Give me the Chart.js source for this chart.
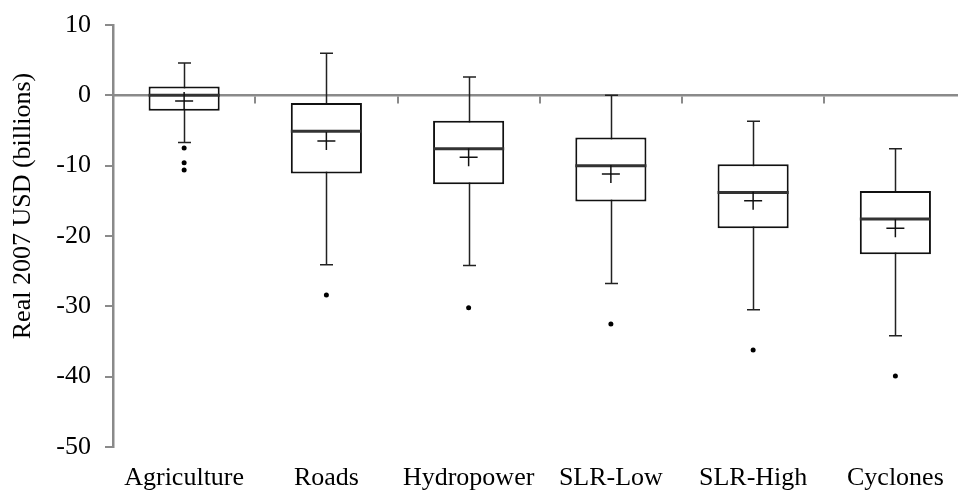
<!DOCTYPE html>
<html>
<head>
<meta charset="utf-8">
<script src="https://cdn.jsdelivr.net/npm/chart.js@4.4.1/dist/chart.umd.min.js"></script>
<style>
  html, body { margin: 0; padding: 0; background: #fff; overflow: hidden; }
  #wrap { width: 958px; height: 491px; overflow: hidden; }
  canvas { display: block; }
</style>
</head>
<body>
<div id="wrap"><canvas id="boxChart" width="977" height="491"></canvas></div>
<script>
// categories and box statistics (billions, real 2007 USD)
const categories = ['Agriculture', 'Roads', 'Hydropower', 'SLR-Low', 'SLR-High', 'Cyclones'];
const whiskerHigh = [4.6, 6.0, 2.6, 0.0, -3.7, -7.6];
const q3Values = [1.25, -1.1, -3.6, -6.0, -9.8, -13.6];
const medians = [0.0, -5.1, -7.6, -10.0, -13.8, -17.6];
const means = [-0.8, -6.5, -8.8, -11.2, -15.0, -18.9];
const q1Values = [-2.2, -11.1, -12.65, -15.1, -18.9, -22.6];
const whiskerLow = [-6.7, -24.1, -24.2, -26.75, -30.5, -34.2];

// outliers
const outlierCats = ['Agriculture', 'Agriculture', 'Agriculture', 'Roads', 'Hydropower', 'SLR-Low', 'SLR-High', 'Cyclones'];
const outlierVals = [-7.5, -9.6, -10.6, -28.4, -30.2, -32.5, -36.2, -39.9];

// y axis ticks
const yMin = -50, yMax = 10, yStep = 10;
const yTitle = 'Real 2007 USD (billions)';

const serif = '"Liberation Serif", "Times New Roman", serif';
const axisGray = '#8a8a8a';

// whiskers + median lines, drawn via the chart scales
const boxExtras = {
    id: 'boxExtras',
    beforeDatasetsDraw(chart) {
        const { ctx, scales: { x, y } } = chart;
        const cap = 6.5;
        ctx.save();
        ctx.strokeStyle = '#222';
        ctx.lineWidth = 1.5;
        categories.forEach((c, i) => {
            const px = Math.round(x.getPixelForValue(i)) + 0.5;
            ctx.beginPath();
            ctx.moveTo(px, y.getPixelForValue(whiskerHigh[i]));
            ctx.lineTo(px, y.getPixelForValue(whiskerLow[i]));
            ctx.moveTo(px - cap, y.getPixelForValue(whiskerHigh[i]));
            ctx.lineTo(px + cap, y.getPixelForValue(whiskerHigh[i]));
            ctx.moveTo(px - cap, y.getPixelForValue(whiskerLow[i]));
            ctx.lineTo(px + cap, y.getPixelForValue(whiskerLow[i]));
            ctx.stroke();
        });
        ctx.restore();
    },
    afterDatasetDraw(chart, args) {
        if (args.index !== 0) return;
        const { ctx, scales: { y } } = chart;
        const meta = chart.getDatasetMeta(0);
        ctx.save();
        ctx.strokeStyle = '#333';
        ctx.lineWidth = 3;
        meta.data.forEach((bar, i) => {
            const py = y.getPixelForValue(medians[i]);
            ctx.beginPath();
            ctx.moveTo(bar.x - bar.width / 2, py);
            ctx.lineTo(bar.x + bar.width / 2, py);
            ctx.stroke();
        });
        ctx.restore();
    },
    // y title sits above the axis middle in the original, so place it by hand
    afterDraw(chart) {
        const { ctx } = chart;
        ctx.save();
        ctx.translate(30, 206);
        ctx.rotate(-Math.PI / 2);
        ctx.font = '26px ' + serif;
        ctx.fillStyle = '#000';
        ctx.textAlign = 'center';
        ctx.textBaseline = 'alphabetic';
        ctx.fillText(yTitle, 0, 0);
        ctx.restore();
    }
};

const ctx = document.getElementById('boxChart').getContext('2d');

new Chart(ctx, {
    type: 'bar',
    data: {
        labels: categories,
        datasets: [
            {
                label: 'IQR',
                data: q1Values.map((v, i) => [v, q3Values[i]]),
                backgroundColor: '#ffffff',
                borderColor: '#111',
                borderWidth: 2,
                borderSkipped: false,
                barPercentage: 0.5,
                categoryPercentage: 1.0,
                order: 2
            },
            {
                type: 'scatter',
                label: 'Mean',
                data: categories.map((c, i) => ({ x: c, y: means[i] })),
                pointStyle: 'cross',
                pointRadius: 9,
                borderColor: '#111',
                borderWidth: 1.5,
                order: 1
            },
            {
                type: 'scatter',
                label: 'Outliers',
                data: outlierCats.map((c, i) => ({ x: c, y: outlierVals[i] })),
                pointStyle: 'circle',
                pointRadius: 2.5,
                backgroundColor: '#000',
                borderColor: '#000',
                borderWidth: 0,
                order: 0
            }
        ]
    },
    options: {
        responsive: false,
        animation: false,
        layout: { padding: { top: 25, right: 0, bottom: 0, left: 0 } },
        plugins: {
            legend: { display: false },
            tooltip: { enabled: false }
        },
        scales: {
            x: {
                type: 'category',
                offset: true,
                grid: { display: false },
                border: { display: false },
                ticks: { color: '#000', font: { family: serif, size: 26 }, padding: 8, maxRotation: 0 },
                afterFit: (s) => { s.height = 44; }
            },
            x2: {
                type: 'category',
                labels: categories,
                position: { y: 0 },
                offset: true,
                grid: { offset: true, drawOnChartArea: false, drawTicks: true, tickLength: 7, color: axisGray, lineWidth: 2 },
                border: { display: true, color: axisGray, width: 2.5 },
                ticks: { display: false }
            },
            y: {
                min: yMin,
                max: yMax,
                ticks: { stepSize: yStep, color: '#000', font: { family: serif, size: 26 }, padding: 14 },
                grid: { drawOnChartArea: false, drawTicks: true, tickLength: 8, color: axisGray, lineWidth: 2 },
                border: { display: true, color: axisGray, width: 2.5 },
                title: { display: false, text: yTitle },
                afterFit: (s) => {
                    s.width = 113;
                    s.paddingTop = 10;
                    s.paddingBottom = 10;
                }
            }
        }
    },
    plugins: [boxExtras]
});
</script>
</body>
</html>
